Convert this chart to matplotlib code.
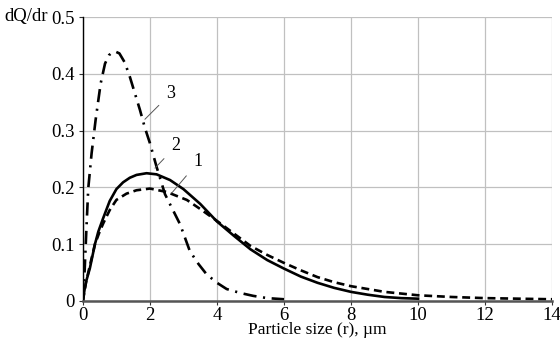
import matplotlib
matplotlib.use("Agg")
import matplotlib.pyplot as plt

# Curve 1 (dashed)
x1 = [0.0, 0.1, 0.2, 0.36, 0.5, 0.61, 0.8, 1.0, 1.3, 1.6, 2.0, 2.5, 3.1, 3.5, 4.0, 4.5, 5.0, 5.5, 6.0, 6.5, 7.0, 7.5, 8.0, 9.0, 10.0, 11.0, 12.0, 13.0, 14.0]
y1 = [0.0, 0.035, 0.06, 0.1, 0.122, 0.137, 0.16, 0.178, 0.189, 0.195, 0.198, 0.192, 0.178, 0.162, 0.141, 0.119, 0.097, 0.081, 0.067, 0.054, 0.042, 0.033, 0.026, 0.016, 0.010, 0.007, 0.005, 0.004, 0.003]
# Curve 2 (solid)
x2 = [0.0, 0.05, 0.1, 0.21, 0.36, 0.46, 0.6, 0.8, 1.0, 1.2, 1.4, 1.6, 1.9, 2.2, 2.6, 3.0, 3.5, 4.0, 4.5, 5.0, 5.5, 6.0, 6.5, 7.0, 7.5, 8.0, 8.5, 9.0, 9.5, 10.0]
y2 = [0.0, 0.02, 0.035, 0.058, 0.1, 0.122, 0.145, 0.176, 0.197, 0.209, 0.217, 0.222, 0.225, 0.223, 0.213, 0.197, 0.171, 0.140, 0.115, 0.091, 0.072, 0.057, 0.043, 0.032, 0.023, 0.016, 0.011, 0.007, 0.005, 0.004]
# Curve 3 (dash-dot)
x3 = [0.0, 0.05, 0.1, 0.16, 0.26, 0.38, 0.53, 0.66, 0.78, 0.88, 0.98, 1.09, 1.25, 1.4, 1.7, 1.85, 2.0, 2.2, 2.45, 2.9, 3.19, 3.45, 3.69, 4.0, 4.29, 4.7, 5.08, 5.5, 6.0]
y3 = [0.0, 0.05, 0.12, 0.198, 0.26, 0.319, 0.383, 0.418, 0.433, 0.438, 0.439, 0.436, 0.42, 0.395, 0.337, 0.305, 0.278, 0.236, 0.188, 0.135, 0.088, 0.065, 0.047, 0.032, 0.021, 0.014, 0.009, 0.005, 0.003]

xticks = [0, 2, 4, 6, 8, 10, 12, 14]
yticks = [0, 0.1, 0.2, 0.3, 0.4, 0.5]
ytick_labels = ["0", "0.1", "0.2", "0.3", "0.4", "0.5"]
curve_labels = ["1", "2", "3"]

plt.rcParams['font.family'] = ['Liberation Serif', 'DejaVu Serif']

fig = plt.figure(figsize=(5.6, 3.42), dpi=100)
ax = fig.add_axes([0.148, 0.12, 0.838, 0.83])

ax.plot(x1, y1, color='black', lw=1.9, linestyle=(0, (3, 1.8)))
ax.plot(x2, y2, color='black', lw=1.9, linestyle='-')
ax.plot(x3, y3, color='black', lw=1.9, linestyle=(0, (5, 2.5, 0.8, 2.5)))

ax.set_xlim(0, 14)
ax.set_ylim(0, 0.5)
ax.set_xticks(xticks)
ax.set_yticks(yticks)
ax.set_yticklabels(ytick_labels)
ax.grid(True, color='#c0c0c0', lw=0.9)
ax.set_axisbelow(True)
for s in ['top', 'right']:
    ax.spines[s].set_visible(False)
ax.spines['left'].set_color('black')
ax.spines['left'].set_linewidth(1.0)
ax.spines['bottom'].set_color('#555555')
ax.spines['bottom'].set_linewidth(1.8)
ax.tick_params(axis='both', labelsize=13.5, length=3, width=0.8, color='#333333')
ax.tick_params(axis='x', pad=1)
ax.tick_params(axis='y', pad=3)

ax.set_xlabel("Particle size (r), µm", fontsize=12.5, labelpad=-1)
fig.text(0.008, 0.952, "dQ/dr", fontsize=13.5, ha='left', va='center')

# curve labels with leader lines
ax.annotate(curve_labels[2], xy=(1.85, 0.32), xytext=(2.63, 0.366), fontsize=13,
            ha='center', va='center',
            arrowprops=dict(arrowstyle='-', color='#555555', lw=0.7, shrinkA=5, shrinkB=0))
ax.annotate(curve_labels[1], xy=(2.15, 0.234), xytext=(2.78, 0.273), fontsize=13,
            ha='center', va='center',
            arrowprops=dict(arrowstyle='-', color='#555555', lw=0.7, shrinkA=5, shrinkB=0))
ax.annotate(curve_labels[0], xy=(2.65, 0.19), xytext=(3.44, 0.245), fontsize=13,
            ha='center', va='center',
            arrowprops=dict(arrowstyle='-', color='#555555', lw=0.7, shrinkA=5, shrinkB=0))

fig.savefig("out.png", dpi=100)
